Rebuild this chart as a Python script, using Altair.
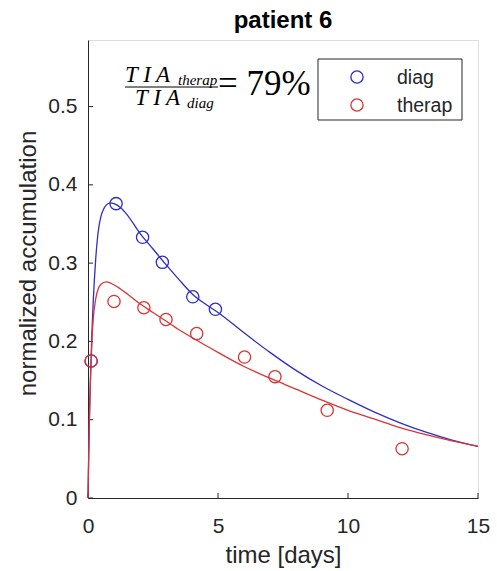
import altair as alt
import pandas as pd

# ---------------- data ----------------
series_names = ["diag", "therap"]

diag_pts_t = [0.12, 1.08, 2.1, 2.86, 4.03, 4.9]
diag_pts_v = [0.175, 0.376, 0.333, 0.301, 0.257, 0.241]

therap_pts_t = [0.12, 1.0, 2.15, 3.0, 4.18, 6.02, 7.19, 9.2, 12.08]
therap_pts_v = [0.175, 0.251, 0.243, 0.228, 0.210, 0.180, 0.155, 0.112, 0.063]

diag_fit_t = [0, 0.03, 0.06, 0.1, 0.15, 0.2, 0.3, 0.4, 0.5, 0.6, 0.7, 0.85, 1.0, 1.25,
              1.5, 2.0, 2.5, 3.0, 3.5, 4.0, 4.5, 5.0, 6.0, 7.0, 8.0, 9.0, 10.0, 11.0,
              12.0, 13.0, 14.0, 15.0]
diag_fit_v = [0, 0.06, 0.11, 0.16, 0.21, 0.25, 0.307, 0.342, 0.36, 0.369, 0.374, 0.377,
              0.376, 0.371, 0.362, 0.338, 0.318, 0.298, 0.279, 0.261, 0.248, 0.237,
              0.211, 0.186, 0.163, 0.143, 0.126, 0.110, 0.096, 0.084, 0.074, 0.066]

therap_fit_t = [0, 0.03, 0.06, 0.1, 0.15, 0.2, 0.3, 0.4, 0.5, 0.7, 0.9, 1.25, 1.5, 2.0,
                2.5, 3.0, 3.5, 4.0, 5.0, 6.0, 7.0, 8.0, 9.0, 10.0, 11.0, 12.0, 13.0,
                14.0, 15.0]
therap_fit_v = [0, 0.06, 0.11, 0.155, 0.2, 0.228, 0.255, 0.268, 0.273, 0.276, 0.274,
                0.267, 0.261, 0.248, 0.237, 0.226, 0.215, 0.205, 0.186, 0.168, 0.153,
                0.139, 0.125, 0.112, 0.101, 0.090, 0.081, 0.073, 0.066]

x_ticks = [0, 5, 10, 15]
y_ticks = [0, 0.1, 0.2, 0.3, 0.4, 0.5]

title_text = ["patient 6"]
x_title = "time [days]"
y_title = "normalized accumulation"
formula_main = ["T I A"]
formula_num_sub = ["therap"]
formula_den_sub = ["diag"]
formula_rhs = ["= 79%"]

# ---------------- styling ----------------
BLUE = "#2e2ec8"
RED = "#dc3434"
AX = "#262626"
SANS = "Liberation Sans"
SERIF = "Liberation Serif"
COLORS = [BLUE, RED]

pts = pd.DataFrame({
    "t": diag_pts_t + therap_pts_t,
    "v": diag_pts_v + therap_pts_v,
    "series": ["diag"] * len(diag_pts_t) + ["therap"] * len(therap_pts_t),
})
fits = pd.DataFrame({
    "t": diag_fit_t + therap_fit_t,
    "v": diag_fit_v + therap_fit_v,
    "series": ["diag"] * len(diag_fit_t) + ["therap"] * len(therap_fit_t),
})
xt = pd.DataFrame({"t": x_ticks})
yt = pd.DataFrame({"v": y_ticks})

xscale = alt.Scale(domain=[0, 15], nice=False, zero=False)
yscale = alt.Scale(domain=[0, 0.585], nice=False)

xaxis = alt.Axis(title=x_title, values=x_ticks, grid=False, ticks=False, tickSize=0,
                 labelFlush=False, labelOverlap=False,
                 labelFont=SANS, labelFontSize=21, labelColor=AX, labelPadding=17,
                 titleFont=SANS, titleFontSize=24, titleColor=AX, titleFontWeight="normal",
                 titleY=64, titleBaseline="alphabetic",
                 domainColor=AX, domainWidth=1)
yaxis = alt.Axis(title=y_title, values=y_ticks, format="~g", grid=False, ticks=False,
                 tickSize=0, labelFlush=False, labelOverlap=False,
                 labelFont=SANS, labelFontSize=21, labelColor=AX,
                 labelPadding=11, titleFont=SANS, titleFontSize=24, titleColor=AX,
                 titleFontWeight="normal", titleX=-53, titleY=223,
                 titleBaseline="alphabetic", domainColor=AX, domainWidth=1)

X = alt.X("t:Q", scale=xscale, axis=xaxis)
Y = alt.Y("v:Q", scale=yscale, axis=yaxis)
cscale = alt.Scale(domain=series_names, range=COLORS)

lines = alt.Chart(fits).mark_line(strokeWidth=1.3, interpolate="monotone").encode(
    x=X, y=Y, color=alt.Color("series:N", scale=cscale, legend=None)
)

points = alt.Chart(pts).mark_point(shape="circle", filled=False, size=150,
                                   strokeWidth=1.3, opacity=1).encode(
    x=X, y=Y, color=alt.Color("series:N", scale=cscale, legend=None)
)

xtick_rules = alt.Chart(xt).mark_rule(color=AX, strokeWidth=1).encode(
    x=X, y=alt.value(458), y2=alt.value(453)
)
ytick_rules = alt.Chart(yt).mark_rule(color=AX, strokeWidth=1).encode(
    y=Y, x=alt.value(0), x2=alt.value(5)
)

def txt(lst, x, y, size, italic=True, align="left", font=SERIF, weight="normal",
        color="black"):
    return alt.Chart(pd.DataFrame({"s": lst})).mark_text(
        font=font, fontSize=size, fontStyle="italic" if italic else "normal",
        fontWeight=weight, align=align, baseline="alphabetic", color=color
    ).encode(text="s:N", x=alt.value(x), y=alt.value(y))

title = txt(title_text, 195, -12, 24, italic=False, align="center", font=SANS,
            weight="bold")
num_main = txt(formula_main, 37, 42, 23)
num_sub = txt(formula_num_sub, 90, 45, 15)
den_main = txt(formula_main, 47, 65, 23)
den_sub = txt(formula_den_sub, 99, 68, 15)
rhs = txt(formula_rhs, 130, 55, 35, italic=False)
bar = alt.Chart(pd.DataFrame({"s": [0]})).mark_rule(color="black", strokeWidth=1).encode(
    x=alt.value(37), x2=alt.value(130), y=alt.value(47)
)

# ---- legend box (drawn by hand) ----
legend_box = alt.Chart(pd.DataFrame({"s": [0]})).mark_rect(
    fill="white", stroke=AX, strokeWidth=1
).encode(x=alt.value(230), x2=alt.value(374), y=alt.value(19), y2=alt.value(80))

legend_layers = [legend_box]
for i, (name, col) in enumerate(zip(series_names, COLORS)):
    cy = 37 + 28 * i
    legend_layers.append(
        alt.Chart(pd.DataFrame({"s": [name]})).mark_point(
            shape="circle", filled=False, size=150, strokeWidth=1.3, color=col, opacity=1
        ).encode(x=alt.value(269), y=alt.value(cy))
    )
    legend_layers.append(txt([name], 309, cy + 7, 19.5, italic=False, font=SANS, color=AX))

chart = alt.layer(
    xtick_rules, ytick_rules, lines, points,
    num_main, num_sub, bar, den_main, den_sub, rhs, title, *legend_layers
).properties(
    width=390, height=458,
    padding={"left": 88, "top": 40, "right": 19, "bottom": 73},
    autosize=alt.AutoSizeParams(type="none"),
).configure_view(stroke=None).configure(background="white")

chart.save("out.html", embed_options={"renderer": "svg", "actions": False})
